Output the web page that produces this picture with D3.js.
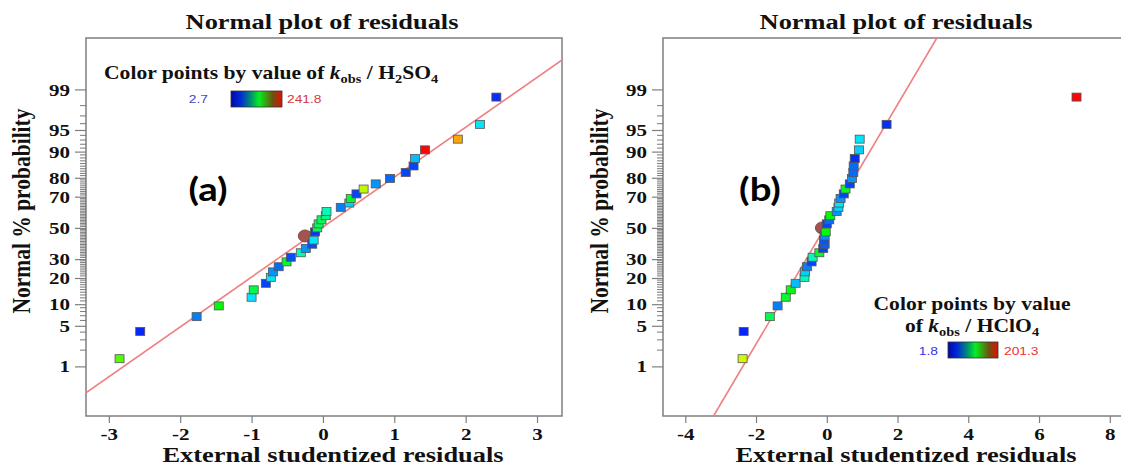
<!DOCTYPE html>
<html>
<head>
<meta charset="utf-8">
<script src="https://cdn.jsdelivr.net/npm/d3@7"></script>
<style>
  body { margin: 0; background: #fff; }
  svg { display: block; }
</style>
</head>
<body>
<svg id="chart" width="1121" height="468"></svg>
<script>
// ---- Data -------------------------------------------------------------
// Panel (a): H2SO4 model, externally studentized residuals vs normal % probability
const residA = [-2.85, -2.56, -1.77, -1.46, -1.00, -0.97, -0.80, -0.73, -0.70, -0.62,
                -0.51, -0.45, -0.31, -0.24, -0.15, -0.13, -0.25, -0.11, -0.08, -0.06,
                -0.02, 0.04, 0.05, 0.25, 0.37, 0.39, 0.47, 0.57, 0.74, 0.94,
                1.16, 1.27, 1.29, 1.43, 1.89, 2.20, 2.43];
const pctA = [1.4, 4.1, 6.8, 9.5, 12.2, 14.9, 17.6, 20.3, 23.0, 25.7,
              28.4, 31.1, 33.8, 36.5, 39.2, 41.9, 44.6, 47.3, 50.0, 52.7,
              55.4, 58.1, 60.8, 63.5, 66.2, 68.9, 71.6, 74.3, 77.0, 79.7,
              82.4, 85.1, 87.8, 90.5, 93.2, 95.9, 98.6];
const kobsA = [142.1, 10.7, 32.6, 122.2, 57.5, 107.3, 17.6, 57.5, 37.6, 27.6,
               112.3, 20.6, 77.4, 37.6, 20.6, 57.5, null, 14.7, 102.3, 102.3,
               102.3, 92.3, 77.4, 32.6, 52.5, 112.3, 17.6, 167.0, 37.6, 27.6,
               17.6, 17.6, 47.5, 241.8, 201.9, 57.5, 12.7];
const highlightA = 16;                 // run shown as the highlighted circle
const kRangeA = [2.7, 241.8];
const lineA = { mean: -0.0155, sd: 1.193 };   // reference normal line

// Panel (b): HClO4 model
const residB = [-2.38, -2.35, -1.61, -1.39, -1.16, -1.02, -0.88, -0.63, -0.62, -0.56,
                -0.43, -0.40, -0.21, -0.10, -0.06, -0.08, -0.06, -0.03, -0.13, 0.00,
                0.07, 0.10, 0.28, 0.33, 0.35, 0.39, 0.48, 0.53, 0.65, 0.71,
                0.75, 0.76, 0.79, 0.91, 0.93, 1.69, 7.06];
const pctB = [1.4, 4.1, 6.8, 9.5, 12.2, 14.9, 17.6, 20.3, 23.0, 25.7,
              28.4, 31.1, 33.8, 36.5, 39.2, 41.9, 44.6, 47.3, 50.0, 52.7,
              55.4, 58.1, 60.8, 63.5, 66.2, 68.9, 71.6, 74.3, 77.0, 79.7,
              82.4, 85.1, 87.8, 90.5, 93.2, 95.9, 98.6];
const kobsB = [143.1, 8.4, 84.9, 26.7, 93.2, 97.4, 39.2, 64.1, 43.4, 26.7,
               14.3, 64.1, 94.9, 14.3, 20.1, 18.4, 30.9, 101.5, null, 14.3,
               22.6, 101.5, 30.9, 43.4, 47.5, 30.9, 14.3, 97.4, 14.3, 30.9,
               22.6, 22.6, 10.1, 43.4, 47.5, 10.1, 201.3];
const highlightB = 18;
const kRangeB = [1.8, 201.3];
const lineB = { mean: -0.06, sd: 0.994 };

// Axis ticks
const majorPct = [1, 5, 10, 20, 30, 50, 70, 80, 90, 95, 99];
const minorPct = [2, 3, 4, 6, 7, 8, 9, 11, 12, 13, 14, 15, 16, 17, 18, 19, 21, 22, 23, 24, 25, 26, 27, 28, 29,
                  31, 32, 33, 34, 35, 36, 37, 38, 39, 40, 41, 42, 43, 44, 45, 46, 47, 48, 49,
                  51, 52, 53, 54, 55, 56, 57, 58, 59, 60, 61, 62, 63, 64, 65, 66, 67, 68, 69,
                  71, 72, 73, 74, 75, 76, 77, 78, 79, 81, 82, 83, 84, 85, 86, 87, 88, 89,
                  91, 92, 93, 94, 96, 97, 98];
const xTicksA = [-3, -2, -1, 0, 1, 2, 3];
const xTicksB = [-4, -2, 0, 2, 4, 6, 8];

// ---- Helpers ----------------------------------------------------------
// Inverse standard normal CDF (Acklam's rational approximation)
function probit(p) {
  const a = [-3.969683028665376e+01, 2.209460984245205e+02, -2.759285104469687e+02,
             1.383577518672690e+02, -3.066479806614716e+01, 2.506628277459239e+00];
  const b = [-5.447609879822406e+01, 1.615858368580409e+02, -1.556989798598866e+02,
             6.680131188771972e+01, -1.328068155288572e+01];
  const c = [-7.784894002430293e-03, -3.223964580411365e-01, -2.400758277161838e+00,
             -2.549732539343734e+00, 4.374664141464968e+00, 2.938163982698783e+00];
  const d = [7.784695709041462e-03, 3.224671290700398e-01, 2.445134137142996e+00,
             3.754408661907416e+00];
  const pl = 0.02425, ph = 1 - pl;
  let q, r;
  if (p < pl) {
    q = Math.sqrt(-2 * Math.log(p));
    return (((((c[0]*q+c[1])*q+c[2])*q+c[3])*q+c[4])*q+c[5]) / ((((d[0]*q+d[1])*q+d[2])*q+d[3])*q+1);
  }
  if (p <= ph) {
    q = p - 0.5; r = q * q;
    return (((((a[0]*r+a[1])*r+a[2])*r+a[3])*r+a[4])*r+a[5])*q / (((((b[0]*r+b[1])*r+b[2])*r+b[3])*r+b[4])*r+1);
  }
  q = Math.sqrt(-2 * Math.log(1 - p));
  return -(((((c[0]*q+c[1])*q+c[2])*q+c[3])*q+c[4])*q+c[5]) / ((((d[0]*q+d[1])*q+d[2])*q+d[3])*q+1);
}

const SX = 1.2;                 // horizontal stretch of the lettering
const SERIF = "'Liberation Serif', 'Times New Roman', serif";
const SANS = "'Liberation Sans', Arial, sans-serif";
const AXIS_GREY = "#7f7f7f";

const svg = d3.select("#chart");
svg.append("rect").attr("width", 1121).attr("height", 468).attr("fill", "#fff");

const defs = svg.append("defs");
// colour bar used in the legends
const grad = defs.append("linearGradient").attr("id", "kbar").attr("x1", 0).attr("x2", 1).attr("y1", 0).attr("y2", 0);
[[0, "#0008a8"], [0.18, "#0028d8"], [0.38, "#008a78"], [0.55, "#00f020"], [0.66, "#30b010"],
 [0.82, "#705012"], [1, "#e01000"]].forEach(([o, c]) => grad.append("stop").attr("offset", o).attr("stop-color", c));

function stext(g, x, y, anchor) {
  return g.append("text")
    .attr("transform", `translate(${x},${y}) scale(${SX},1)`)
    .attr("text-anchor", anchor);
}

function drawPanel(cfg) {
  const g = svg.append("g");
  const x = d3.scaleLinear().domain(cfg.xDomain).range([cfg.left, cfg.right]);
  const z = d3.scaleLinear().domain([-3.16, 3.19]).range([cfg.bottom, cfg.top]);
  const y = p => z(probit(p / 100));

  const clipId = "clip" + cfg.id;
  defs.append("clipPath").attr("id", clipId).append("rect")
    .attr("x", cfg.left).attr("y", cfg.top)
    .attr("width", cfg.right - cfg.left).attr("height", cfg.bottom - cfg.top);

  // frame
  g.append("rect").attr("x", cfg.left).attr("y", cfg.top)
    .attr("width", cfg.right - cfg.left).attr("height", cfg.bottom - cfg.top)
    .attr("fill", "none").attr("stroke", AXIS_GREY).attr("stroke-width", 1.5);

  // y axis: short ticks at every whole percent, labelled major ticks
  g.append("g").selectAll("line").data(minorPct).join("line")
    .attr("x1", cfg.left - 6).attr("x2", cfg.left)
    .attr("y1", d => y(d)).attr("y2", d => y(d))
    .attr("stroke", "#6a6a6a").attr("stroke-width", 0.9);

  const yMajor = g.append("g").attr("transform", `translate(${cfg.left},0)`)
    .call(d3.axisLeft(z).tickValues(majorPct.map(p => probit(p / 100)))
      .tickFormat((d, i) => majorPct[i]).tickSize(11).tickPadding(5));
  yMajor.select(".domain").remove();
  yMajor.selectAll("line").attr("stroke", AXIS_GREY).attr("stroke-width", 1.2);
  yMajor.selectAll("text")
    .attr("font-family", SERIF).attr("font-weight", "bold").attr("font-size", 17.5).attr("fill", "#111")
    .attr("transform", `translate(-16,0) scale(${SX},1) translate(16,0)`);

  // x axis
  const xAxis = g.append("g").attr("transform", `translate(0,${cfg.bottom})`)
    .call(d3.axisBottom(x).tickValues(cfg.xTicks).tickFormat(d => String(d)).tickSize(7).tickPadding(5));
  xAxis.select(".domain").remove();
  xAxis.selectAll("line").attr("stroke", AXIS_GREY).attr("stroke-width", 1.2);
  xAxis.selectAll("text")
    .attr("font-family", SERIF).attr("font-weight", "bold").attr("font-size", 17.5).attr("fill", "#111")
    .attr("transform", `scale(${SX},1)`);

  // reference line z = (r - mean) / sd
  const zLo = -3.16, zHi = 3.19;
  const lineData = [zLo, zHi].map(zz => ({ r: cfg.line.mean + zz * cfg.line.sd, z: zz }));
  g.append("line")
    .attr("clip-path", `url(#${clipId})`)
    .attr("x1", x(lineData[0].r)).attr("y1", z(lineData[0].z))
    .attr("x2", x(lineData[1].r)).attr("y2", z(lineData[1].z))
    .attr("stroke", "#f07f7f").attr("stroke-width", 1.6);

  // points
  const hue = d3.scaleLinear().domain(cfg.kRange).range([240, 0]);
  const pts = cfg.resid.map((r, i) => ({ r, p: cfg.pct[i], k: cfg.kobs[i], hi: i === cfg.highlight }));
  const hp = pts.filter(d => d.hi);
  g.selectAll(".hl").data(hp).join("ellipse")
    .attr("cx", d => x(d.r)).attr("cy", d => y(d.p))
    .attr("rx", 6.8).attr("ry", 6)
    .attr("fill", "#a35450").attr("stroke", "#6e3a38").attr("stroke-width", 0.8);
  g.selectAll(".pt").data(pts.filter(d => !d.hi)).join("rect")
    .attr("x", d => x(d.r) - 4.5).attr("y", d => y(d.p) - 4)
    .attr("width", 9).attr("height", 8)
    .attr("fill", d => d3.hsl(hue(d.k), 0.95, 0.5).formatHex())
    .attr("stroke", "#555").attr("stroke-width", 0.8);

  // titles
  stext(svg, cfg.titleX, 29, "middle")
    .attr("font-family", SERIF).attr("font-weight", "bold").attr("font-size", 22).attr("fill", "#111")
    .text("Normal plot of residuals");
  stext(svg, cfg.xTitleX, 462, "middle")
    .attr("font-family", SERIF).attr("font-weight", "bold").attr("font-size", 22).attr("fill", "#111")
    .text("External studentized residuals");
  svg.append("text")
    .attr("transform", `translate(${cfg.yTitleX},211) scale(${SX},1) rotate(-90)`)
    .attr("text-anchor", "middle")
    .attr("font-family", SERIF).attr("font-weight", "bold").attr("font-size", 21.5).attr("fill", "#111")
    .text("Normal % probability");

  // panel letter
  stext(svg, cfg.letterX, cfg.letterY, "middle")
    .attr("font-family", "Lato, 'Open Sans', sans-serif").attr("font-weight", "bold").attr("font-size", 32).attr("fill", "#000")
    .text(cfg.letter);

  return g;
}

drawPanel({
  id: "A", left: 86, right: 562, top: 38, bottom: 416,
  xDomain: [-3.32, 3.35], xTicks: xTicksA,
  resid: residA, pct: pctA, kobs: kobsA, highlight: highlightA, kRange: kRangeA, line: lineA,
  titleX: 322, xTitleX: 333, yTitleX: 30, letter: "(a)", letterX: 208, letterY: 201
});
drawPanel({
  id: "B", left: 663, right: 1131, top: 38, bottom: 416,
  xDomain: [-4.63, 8.6], xTicks: xTicksB,
  resid: residB, pct: pctB, kobs: kobsB, highlight: highlightB, kRange: kRangeB, line: lineB,
  titleX: 896, xTitleX: 906, yTitleX: 608, letter: "(b)", letterX: 760, letterY: 201
});

// ---- Legends ------------------------------------------------------------
function legendTitle(t) {
  t.attr("font-family", SERIF).attr("font-weight", "bold").attr("font-size", 18).attr("fill", "#111");
  return t;
}
function appendK(t, acid) {
  t.append("tspan").attr("font-style", "italic").text("k");
  t.append("tspan").attr("font-size", 12).attr("dy", 4).text("obs");
  if (acid === "H2SO4") {
    t.append("tspan").attr("dy", -4).text(" / H");
    t.append("tspan").attr("font-size", 12).attr("dy", 4).text("2");
    t.append("tspan").attr("dy", -4).text("SO");
    t.append("tspan").attr("font-size", 12).attr("dy", 4).text("4");
  } else {
    t.append("tspan").attr("dy", -4).text(" / HClO");
    t.append("tspan").attr("font-size", 12).attr("dy", 4).text("4");
  }
}

// (a)
const la = legendTitle(stext(svg, 104, 79, "start"));
la.append("tspan").text("Color points by value of ");
appendK(la, "H2SO4");
svg.append("rect").attr("x", 231).attr("y", 91).attr("width", 51).attr("height", 16)
  .attr("fill", "url(#kbar)").attr("stroke", "#333").attr("stroke-width", 0.8);
stext(svg, 208, 103, "end").attr("font-family", SANS).attr("font-size", 11.5).attr("fill", "#4848c8").text(kRangeA[0]);
stext(svg, 287, 103, "start").attr("font-family", SANS).attr("font-size", 11.5).attr("fill", "#d03c3c").text(kRangeA[1]);

// (b)
legendTitle(stext(svg, 972, 310, "middle")).text("Color points by value");
const lb = legendTitle(stext(svg, 972, 332, "middle"));
lb.append("tspan").text("of ");
appendK(lb, "HClO4");
svg.append("rect").attr("x", 948).attr("y", 342).attr("width", 50).attr("height", 16)
  .attr("fill", "url(#kbar)").attr("stroke", "#333").attr("stroke-width", 0.8);
stext(svg, 938, 355, "end").attr("font-family", SANS).attr("font-size", 11.5).attr("fill", "#3030f0").text(kRangeB[0]);
stext(svg, 1004, 355, "start").attr("font-family", SANS).attr("font-size", 11.5).attr("fill", "#f03030").text(kRangeB[1]);
</script>
</body>
</html>
